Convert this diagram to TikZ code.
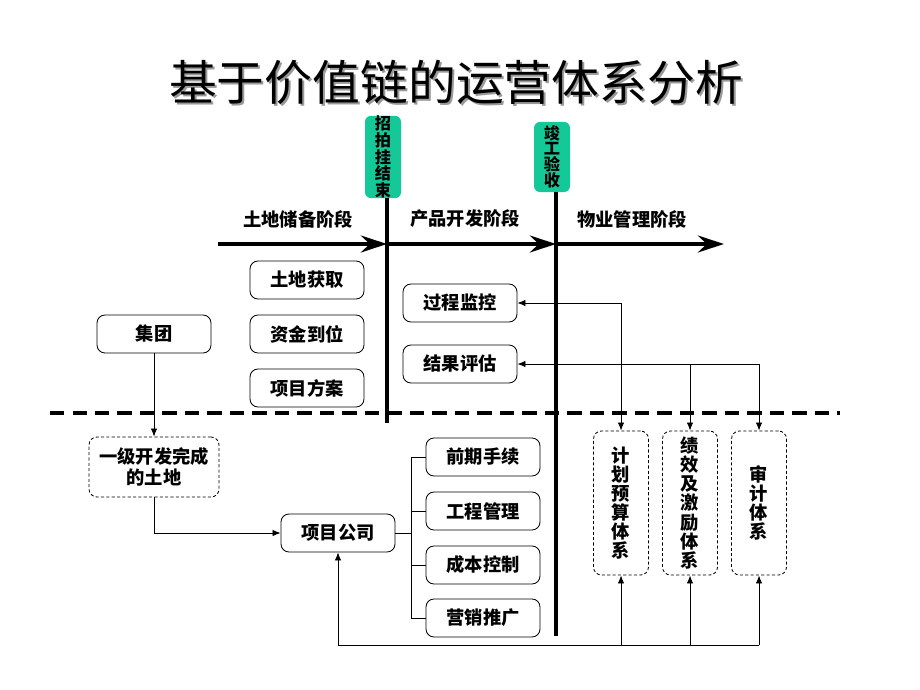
\documentclass[tikz,border=0pt]{standalone}
\usepackage{fontspec}
\setmainfont{Noto Sans CJK SC}
\usetikzlibrary{
arrows.meta,
calc,
positioning
}
\definecolor{tagGreen}{RGB}{20,200,152}
\tikzset{>={Latex[length=2mm,width=1.6mm]}}

\begin{document}
\begin{tikzpicture}[x=0.025cm, y=-0.025cm, font=\fontsize{13pt}{15pt}\selectfont\bfseries,
		box/.style={draw, rounded corners=0.2cm, minimum width=2.85cm, minimum height=0.95cm, line width=0.6pt},
		dbox/.style={box, dash pattern=on 2.2pt off 1.6pt},
		vbox/.style={dbox, minimum width=1.375cm, minimum height=3.6cm, align=center, inner sep=0pt, font=\fontsize{13pt}{13.6pt}\selectfont\bfseries},
		tag/.style={fill=tagGreen, rounded corners=0.15cm, inner sep=0pt, minimum width=0.9cm, minimum height=1.75cm, align=center, font=\fontsize{11.5pt}{10.8pt}\selectfont\bfseries},
		stage/.style={line width=3pt, -{Stealth[length=0.65cm,width=0.42cm,inset=0.22cm]}},
		phase/.style={line width=3pt},
		link/.style={line width=0.6pt}]
		\useasboundingbox (0,0) rectangle (920,690);
		
		% title with its shadow
		\node[text=black!40, font=\fontsize{34pt}{36pt}\selectfont] at (458,84) {基于价值链的运营体系分析};
		\node[font=\fontsize{34pt}{36pt}\selectfont] (title) at (456,82) {基于价值链的运营体系分析};
		
		% phases
		\node[tag] (zpg) at (383,157) {招\\拍\\挂\\结\\束};
		\node[tag] (jgys) at (552,157) {竣\\工\\验\\收};
		\coordinate (endA) at (387,423);
		\coordinate (endB) at (556,636);
		\draw[phase] (zpg.south -| endA) -- (endA);
		\draw[phase] (jgys.south -| endB) -- (endB);
		
		\coordinate (s0) at (218,244);
		\coordinate (s1) at (387,244);
		\coordinate (s2) at (556,244);
		\coordinate (s3) at (724,244);
		\draw[stage] (s0) -- (s1);
		\draw[stage] (s1) -- (s2);
		\draw[stage] (s2) -- (s3);
		\node (lbA) at (298,219) {土地储备阶段};
		\node (lbB) at (465,219) {产品开发阶段};
		\node (lbC) at (632,219) {物业管理阶段};
		
		\coordinate (cutL) at (50,413);
		\coordinate (cutR) at (840,413);
		\draw[line width=2.2pt, dash pattern=on 10pt off 6pt] (cutL) -- (cutR);
		
		% upper boxes
		\node[box] (tdhq) at (307,280) {土地获取};
		\node[box] (zjdw) at (307,334) {资金到位};
		\node[box] (xmfa) at (307,388) {项目方案};
		\node[box] (jituan) at (154,334) {集团};
		\node[box] (gcjk) at (460,303) {过程监控};
		\node[box] (jgpg) at (460,364) {结果评估};
		
		% lower boxes
		\node[dbox, minimum width=3.25cm, minimum height=1.5cm, align=center] (yiji) at (154,467) {一级开发完成\\的土地};
		\node[box] (xmgs) at (338,533) {项目公司};
		\node[box] (qqsx) at (483,457) {前期手续};
		\node[box] (gcgl) at (483,511) {工程管理};
		\node[box] (cbkz) at (483,565) {成本控制};
		\node[box] (yxtg) at (483,618) {营销推广};
		\node[vbox] (jhys) at (621,503) {计\\划\\预\\算\\体\\系};
		\node[vbox] (jxjl) at (690,503) {绩\\效\\及\\激\\励\\体\\系};
		\node[vbox] (sjtx) at (759,503) {审\\计\\体\\系};
		
		% links
		\draw[link,->] (jituan) -- (yiji);
		\draw[link,->] (yiji.south) |- (xmgs.west);
		\draw[link] (xmgs.east) -- ++(16,0) coordinate (fork);
		\foreach \n in {qqsx,gcgl,cbkz,yxtg}
			\draw[link] (fork) |- (\n.west);
		
		\draw[link,<->] (gcjk.east) -| (jhys.north);
		\draw[link,<->] (jgpg.east) -| (sjtx.north);
		\draw[link,->] (jgpg.east -| jxjl.north) -- (jxjl.north);
		
		\coordinate (bus) at (0,645);
		\draw[link] (xmgs.south |- bus) -- (sjtx.south |- bus);
		\foreach \n in {xmgs,jhys,jxjl,sjtx}
			\draw[link,->] (\n.south |- bus) -- (\n.south);
	\end{tikzpicture}
\end{document}
